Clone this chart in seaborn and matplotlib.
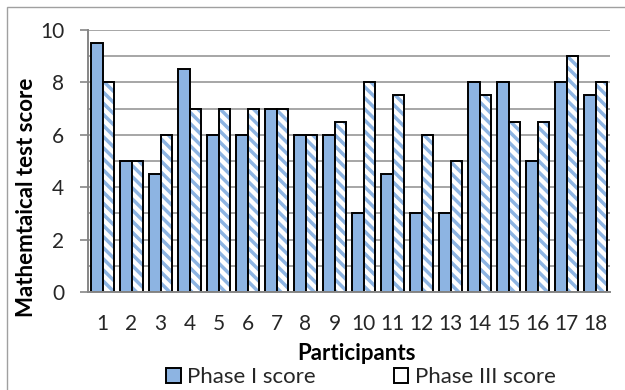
import matplotlib
matplotlib.use("Agg")
import matplotlib.pyplot as plt
from matplotlib.patches import Rectangle, Patch
from matplotlib.ticker import MultipleLocator
import pandas as pd
import seaborn as sns

participants = [str(i) for i in range(1, 19)]
phase1_scores = [9.5, 5, 4.5, 8.5, 6, 6, 7, 6, 6, 3, 4.5, 3, 3, 8, 8, 5, 8, 7.5]
phase3_scores = [8, 5, 6, 7, 7, 7, 7, 6, 6.5, 8, 7.5, 6, 5, 7.5, 6.5, 6.5, 9, 8]
series_names = ["Phase I score", "Phase III score"]

BLUE = "#8DB4E2"
HATCH_BLUE = "#8DB4E2"
GRID = "#A6A6A6"
SPINE = "#868686"
TEXT = "#262626"

sns.set_theme(style="white")
plt.rcParams["font.family"] = ["Lato", "DejaVu Sans"]
plt.rcParams["hatch.linewidth"] = 2.5

df = pd.DataFrame({
    "Participant": participants * 2,
    "Score": phase1_scores + phase3_scores,
    "Phase": [series_names[0]] * 18 + [series_names[1]] * 18,
})

fig = plt.figure(figsize=(6.25, 3.9), dpi=100)
ax = fig.add_axes([88 / 625, 1 - 292 / 390, (610 - 88) / 625, (292 - 30) / 390])

sns.barplot(data=df, x="Participant", y="Score", hue="Phase",
            order=participants, hue_order=series_names,
            palette=[BLUE, "white"], saturation=1, width=0.76,
            edgecolor="black", linewidth=1.4, legend=False, ax=ax)

# Phase III bars: light-blue diagonal stripes on white, with a black outline on top
bars = list(ax.patches)
for p in bars[18:36]:
    p.set_edgecolor(HATCH_BLUE)
    p.set_hatch("\\\\\\")
    p.set_linewidth(0)
    ax.add_patch(Rectangle(p.get_xy(), p.get_width(), p.get_height(),
                           fill=False, edgecolor="black", linewidth=1.4,
                           zorder=p.get_zorder() + 0.1))

ax.set_ylim(0, 10)
ax.set_xlim(-0.5, 17.5)
ax.yaxis.set_major_locator(MultipleLocator(2))
ax.yaxis.set_minor_locator(MultipleLocator(1))
ax.set_axisbelow(True)
ax.grid(axis="y", which="both", color=GRID, linewidth=1.4)
ax.grid(axis="x", visible=False)

for s in ["top", "right"]:
    ax.spines[s].set_visible(False)
for s in ["left", "bottom"]:
    ax.spines[s].set_color(SPINE)
    ax.spines[s].set_linewidth(1.4)

ax.tick_params(axis="y", which="major", direction="out", length=6, width=1.2,
               color=SPINE, left=True, pad=11, labelsize=15, labelcolor=TEXT)
ax.tick_params(axis="y", which="minor", left=False)
ax.tick_params(axis="x", bottom=False, pad=10, labelsize=15, labelcolor=TEXT)

ax.set_xlabel("Participants", fontsize=16, fontweight="bold", color="black")
ax.set_ylabel("Mathemtaical test score", fontsize=16, fontweight="bold", color="black")
ax.yaxis.set_label_coords(-0.098, 0.36)
ax.xaxis.set_label_coords(0.515, -0.195)

h1 = Patch(facecolor=BLUE, edgecolor="black", linewidth=1.4)
h3 = Patch(facecolor="white", edgecolor="black", linewidth=1.4)
fig.legend([h1, h3], series_names,
           loc="center", bbox_to_anchor=(361 / 625, 1 - 377 / 390), ncol=2, frameon=False,
           fontsize=16, handlelength=0.65, handleheight=0.65, handletextpad=0.3,
           columnspacing=3.5, borderaxespad=0, labelcolor=TEXT)

# outer chart frame
fig.add_artist(Rectangle((7 / 625, -0.1), 1.2, 1.1 - 7 / 390, transform=fig.transFigure,
                         fill=False, edgecolor="#A0A0A0", linewidth=1.0))

fig.savefig("out.png", dpi=100)
